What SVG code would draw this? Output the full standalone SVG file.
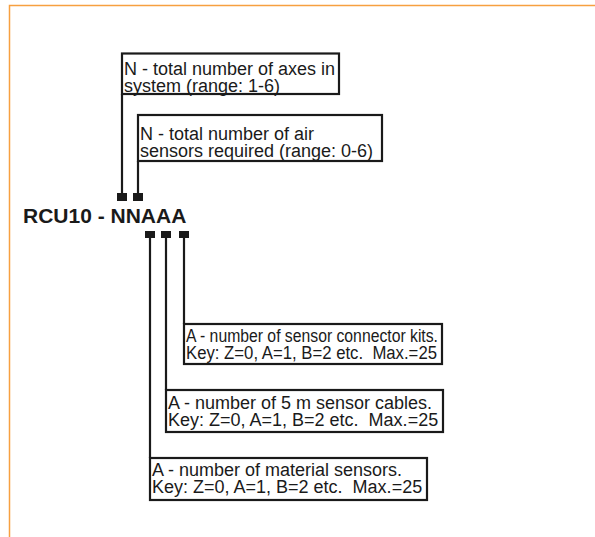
<svg xmlns="http://www.w3.org/2000/svg" width="595" height="537" viewBox="0 0 595 537">
<style>
.box{fill:#fff;stroke:#1a1a1a;stroke-width:2.2}
.t{font-family:"Liberation Sans",Arial,sans-serif;font-size:18px;fill:#1a1a1a}
.c{stroke:#1a1a1a;stroke-width:2.2;fill:none}
.sq{fill:#1a1a1a}
</style>
<rect width="595" height="537" fill="#fff"/>
<path d="M9.5 537 V5.5 H595" fill="none" stroke="#f7a040" stroke-width="1.5"/>
<g id="connectors">
<line class="c" x1="122" y1="94" x2="122" y2="195"/>
<line class="c" x1="138" y1="161" x2="138" y2="195"/>
<line class="c" x1="150" y1="235" x2="150" y2="458"/>
<line class="c" x1="166" y1="235" x2="166" y2="390"/>
<line class="c" x1="184" y1="235" x2="184" y2="324"/>
<rect class="sq" x="117" y="193" width="10" height="8"/>
<rect class="sq" x="133" y="193" width="10" height="8"/>
<rect class="sq" x="145" y="231" width="10" height="7"/>
<rect class="sq" x="161" y="231" width="10" height="7"/>
<rect class="sq" x="179" y="231" width="10" height="7"/>
</g>
<g id="code">
<text x="23" y="223" style="font-family:'Liberation Sans',Arial,sans-serif;font-size:21px;font-weight:bold;fill:#1a1a1a">RCU10 - NNAAA</text>
</g>
<g id="n1">
<rect class="box" x="122" y="53.5" width="217" height="40.5"/>
<text class="t" x="124" y="74.5">N - total number of axes in</text>
<text class="t" x="124" y="91.5">system (range: 1-6)</text>
</g>
<g id="n2">
<rect class="box" x="138" y="115" width="244" height="46"/>
<text class="t" x="140" y="139.5">N - total number of air</text>
<text class="t" x="140" y="156.5">sensors required (range: 0-6)</text>
</g>
<g id="a3">
<rect class="box" x="184" y="324" width="258" height="40"/>
<text class="t" x="186" y="341.5" textLength="252" lengthAdjust="spacingAndGlyphs">A - number of sensor connector kits.</text>
<text class="t" x="186" y="358.5" xml:space="preserve" textLength="251" lengthAdjust="spacingAndGlyphs">Key: Z=0, A=1, B=2 etc.  Max.=25</text>
</g>
<g id="a2">
<rect class="box" x="166" y="390" width="277" height="42"/>
<text class="t" x="168" y="408.5">A - number of 5 m sensor cables.</text>
<text class="t" x="168" y="425.5" xml:space="preserve">Key: Z=0, A=1, B=2 etc.  Max.=25</text>
</g>
<g id="a1">
<rect class="box" x="150" y="458" width="277" height="42"/>
<text class="t" x="152" y="475.5">A - number of material sensors.</text>
<text class="t" x="152" y="492.5" xml:space="preserve">Key: Z=0, A=1, B=2 etc.  Max.=25</text>
</g>
</svg>
